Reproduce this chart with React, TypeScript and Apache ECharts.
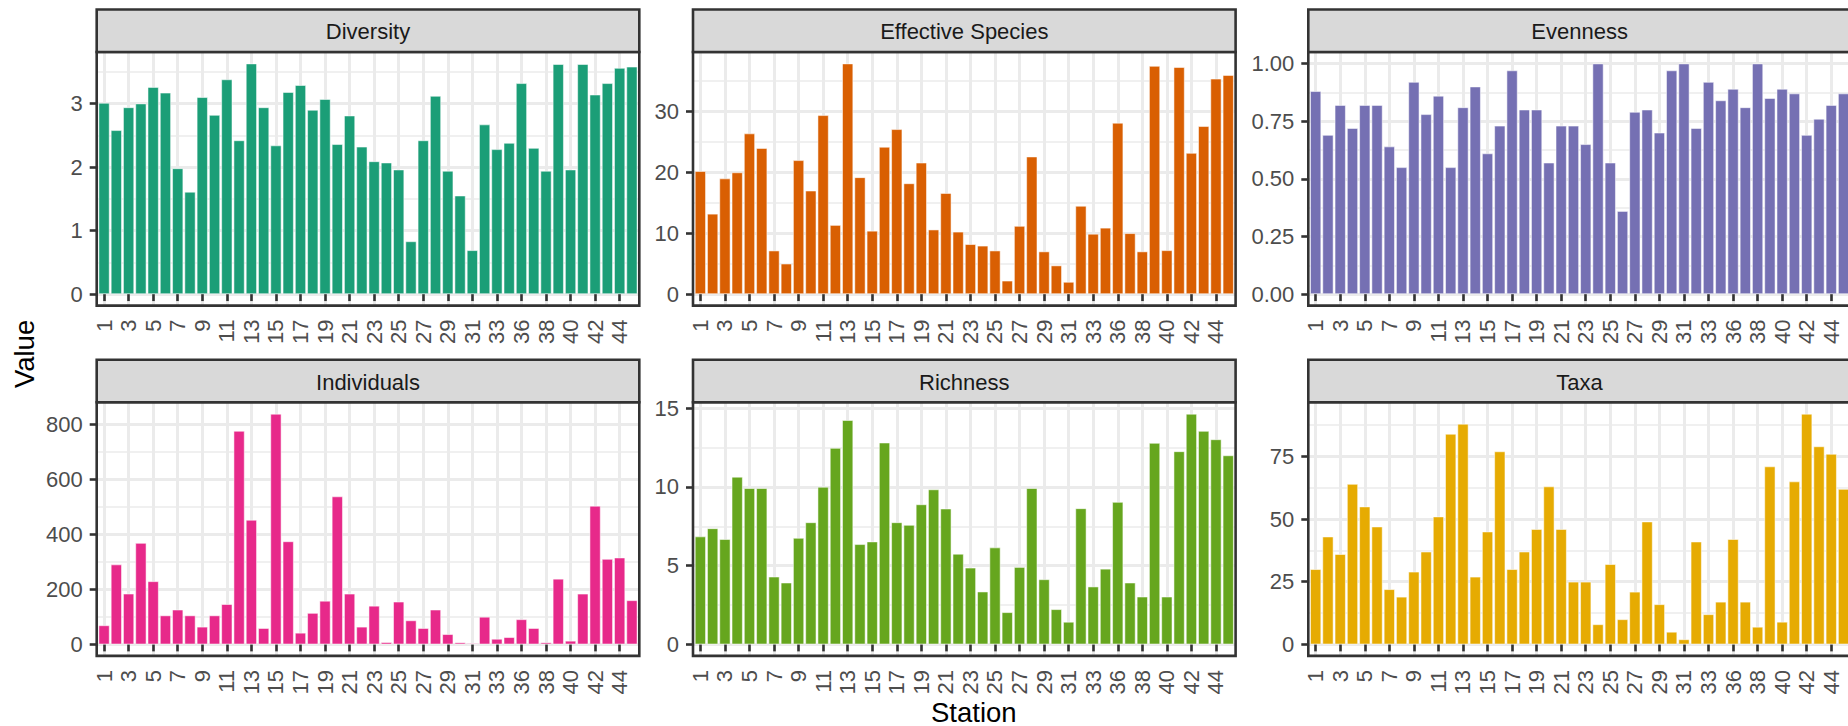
import React, { useEffect, useRef } from "react";
import * as echarts from "echarts";

// Stations along the transect (station 34 was not sampled)
const stations = [
  "1", "2", "3", "4", "5", "6", "7", "8", "9", "10", "11", "12", "13", "14", "15",
  "16", "17", "18", "19", "20", "21", "22", "23", "24", "25", "26", "27", "28", "29",
  "30", "31", "32", "33", "35", "36", "37", "38", "39", "40", "41", "42", "43", "44", "45",
];

const diversity = [
  3.01, 2.58, 2.94, 3.0, 3.26, 3.17, 1.98, 1.61, 3.1, 2.82, 3.38, 2.42, 3.63, 2.94, 2.34,
  3.18, 3.29, 2.9, 3.07, 2.36, 2.81, 2.32, 2.09, 2.07, 1.96, 0.83, 2.42, 3.12, 1.94, 1.55,
  0.69, 2.67, 2.28, 2.38, 3.32, 2.3, 1.94, 3.62, 1.96, 3.62, 3.14, 3.32, 3.56, 3.58,
];

const effectiveSpecies = [
  20.2, 13.2, 19.0, 20.0, 26.4, 24.0, 7.15, 5.0, 22.0, 17.0, 29.4, 11.35, 37.9, 19.2, 10.4,
  24.2, 27.1, 18.2, 21.6, 10.6, 16.6, 10.25, 8.2, 7.95, 7.15, 2.2, 11.2, 22.6, 7.0, 4.7,
  2.0, 14.5, 9.9, 10.9, 28.15, 10.0, 7.0, 37.5, 7.2, 37.3, 23.2, 27.6, 35.4, 36.0,
];

const evenness = [
  0.88, 0.69, 0.82, 0.72, 0.82, 0.82, 0.64, 0.55, 0.92, 0.78, 0.86, 0.55, 0.81, 0.9, 0.61,
  0.73, 0.97, 0.8, 0.8, 0.57, 0.73, 0.73, 0.65, 1.0, 0.57, 0.36, 0.79, 0.8, 0.7, 0.97,
  1.0, 0.72, 0.92, 0.84, 0.89, 0.81, 1.0, 0.85, 0.89, 0.87, 0.69, 0.76, 0.82, 0.87,
];

const individuals = [
  69, 290, 184, 368, 229, 105, 126, 105, 64, 105, 146, 775, 452, 59, 837,
  374, 42, 114, 158, 537, 184, 64, 140, 8, 155, 87, 59, 126, 37, 7,
  4, 100, 20, 26, 91, 59, 7, 238, 13, 184, 503, 310, 315, 160,
];

const richness = [
  6.85, 7.37, 6.68, 10.64, 9.92, 9.92, 4.3, 3.92, 6.76, 7.75, 10.0, 12.47, 14.24, 6.36, 6.53,
  12.81, 7.75, 7.58, 8.89, 9.84, 8.62, 5.75, 4.87, 3.35, 6.15, 2.04, 4.91, 9.92, 4.13, 2.23,
  1.43, 8.64, 3.67, 4.8, 9.04, 3.92, 3.03, 12.79, 3.03, 12.26, 14.64, 13.55, 13.02, 12.0,
];

const taxa = [
  30, 43, 36, 64, 55, 47, 22, 19, 29, 37, 51, 84, 88, 27, 45,
  77, 30, 37, 46, 63, 46, 25, 25, 8, 32, 10, 21, 49, 16, 5,
  2, 41, 12, 17, 42, 17, 7, 71, 9, 65, 92, 79, 76, 62,
];

// y-axis breaks of each facet
const diversityTicks = [0, 1, 2, 3];
const effectiveTicks = [0, 10, 20, 30];
const evennessTicks = [0, 0.25, 0.5, 0.75, 1];
const individualsTicks = [0, 200, 400, 600, 800];
const richnessTicks = [0, 5, 10, 15];
const taxaTicks = [0, 25, 50, 75];

const facetNames = ["Diversity", "Effective Species", "Evenness", "Individuals", "Richness", "Taxa"];
const facetValues = [diversity, effectiveSpecies, evenness, individuals, richness, taxa];
const facetTicks = [diversityTicks, effectiveTicks, evennessTicks, individualsTicks, richnessTicks, taxaTicks];
const facetDigits = [0, 0, 2, 0, 0, 0];
// Dark2 palette
const facetColors = ["#1B9E77", "#D95F02", "#7570B3", "#E7298A", "#66A61E", "#E6AB02"];

// Facet layout (pixels)
const COL_LEFT = [96.7, 693, 1308.3];
const PANEL_W = 542.6;
const STRIP_TOP = [9.5, 359.8];
const STRIP_H = 42.5;
const PANEL_TOP = [52, 402.3];
const PANEL_H = 253.6;

const FONT = "'Liberation Sans', Arial, Helvetica, sans-serif";
const GRID_COLOR = "#EBEBEB";
const DARK = "#333333";

function buildOption() {
  const band = PANEL_W / 44.2; // discrete scale expanded by 0.6 on each side
  const grid: any[] = [];
  const xAxis: any[] = [];
  const yAxis: any[] = [];
  const series: any[] = [];
  const graphic: any[] = [];

  facetNames.forEach((name, k) => {
    const row = Math.floor(k / 3);
    const col = k % 3;
    const left = COL_LEFT[col];
    const top = PANEL_TOP[row];
    const values = facetValues[k];
    const ticks = facetTicks[k];
    const step = ticks[1] - ticks[0];
    const vmax = Math.max(...values);
    const lo = -0.05 * vmax;
    const hi = 1.05 * vmax;
    const digits = facetDigits[k];

    // grid carrying the value axis and horizontal grid lines (zero line at its bottom)
    grid.push({ left, top, width: PANEL_W, height: (PANEL_H * 21) / 22 });
    xAxis.push({ type: "value", gridIndex: 2 * k, show: false, min: 0, max: 1 });
    yAxis.push({
      type: "value",
      gridIndex: 2 * k,
      min: 0,
      max: hi,
      interval: step,
      axisLine: { show: false },
      axisTick: {
        show: true,
        customValues: ticks,
        length: 7,
        lineStyle: { color: DARK, width: 2.6 },
      },
      axisLabel: {
        customValues: ticks,
        formatter: (v: number) => v.toFixed(digits),
        fontSize: 22,
        fontFamily: FONT,
        color: "#4D4D4D",
        margin: 14,
      },
      splitLine: { show: true, lineStyle: { color: GRID_COLOR, width: 3 } },
      minorTick: { show: false, splitNumber: 2 },
      minorSplitLine: { show: true, lineStyle: { color: GRID_COLOR, width: 1.6 } },
    });

    // grid carrying the station axis and the bars
    grid.push({ left: left + 0.6 * band, top, width: 43 * band, height: PANEL_H });
    xAxis.push({
      type: "category",
      gridIndex: 2 * k + 1,
      data: stations,
      boundaryGap: false,
      axisLine: { show: false },
      axisTick: { show: true, interval: 1, length: 7, lineStyle: { color: DARK, width: 2.6 } },
      axisLabel: {
        interval: 1,
        rotate: 90,
        fontSize: 22,
        fontFamily: FONT,
        color: "#4D4D4D",
        margin: 14,
      },
      splitLine: { show: true, interval: 1, lineStyle: { color: GRID_COLOR, width: 3 } },
    });
    yAxis.push({ type: "value", gridIndex: 2 * k + 1, show: false, min: lo, max: hi });

    series.push({
      type: "bar",
      name,
      xAxisIndex: 2 * k + 1,
      yAxisIndex: 2 * k + 1,
      data: values,
      barWidth: "90%",
      clip: false,
      silent: true,
      itemStyle: { color: facetColors[k], borderColor: "rgba(255,255,255,0.75)", borderWidth: 0.7 },
    });

    // panel border
    graphic.push({
      type: "rect",
      z: 100,
      silent: true,
      shape: { x: left, y: top, width: PANEL_W, height: PANEL_H },
      style: { fill: "none", stroke: DARK, lineWidth: 2.6 },
    });
    // facet strip
    graphic.push({
      type: "rect",
      z: 100,
      silent: true,
      shape: { x: left, y: STRIP_TOP[row], width: PANEL_W, height: STRIP_H },
      style: { fill: "#D9D9D9", stroke: DARK, lineWidth: 2.6 },
    });
    graphic.push({
      type: "text",
      z: 101,
      silent: true,
      x: left + PANEL_W / 2,
      y: STRIP_TOP[row] + STRIP_H / 2 + 1,
      style: {
        text: name,
        fill: "#1A1A1A",
        fontSize: 22,
        fontFamily: FONT,
        textAlign: "center",
        textVerticalAlign: "middle",
      },
    });
  });

  // axis titles
  graphic.push({
    type: "text",
    silent: true,
    x: 24,
    y: (PANEL_TOP[0] + PANEL_TOP[1] + PANEL_H) / 2,
    rotation: Math.PI / 2,
    style: {
      text: "Value",
      fill: "#000000",
      fontSize: 27.5,
      fontFamily: FONT,
      textAlign: "center",
      textVerticalAlign: "middle",
    },
  });
  graphic.push({
    type: "text",
    silent: true,
    x: (COL_LEFT[0] + COL_LEFT[2] + PANEL_W) / 2,
    y: 712,
    style: {
      text: "Station",
      fill: "#000000",
      fontSize: 27.5,
      fontFamily: FONT,
      textAlign: "center",
      textVerticalAlign: "middle",
    },
  });

  return {
    animation: false,
    backgroundColor: "#ffffff",
    textStyle: { fontFamily: FONT },
    grid,
    xAxis,
    yAxis,
    series,
    graphic,
  };
}

export default function App() {
  const ref = useRef<HTMLDivElement>(null);

  useEffect(() => {
    document.body.style.margin = "0";
    if (!ref.current) return;
    const chart = echarts.init(ref.current, undefined, { renderer: "svg" });
    chart.setOption(buildOption());
    return () => chart.dispose();
  }, []);

  return (
    <div
      ref={ref}
      style={{ position: "fixed", left: 0, top: 0, width: 1848, height: 726, overflow: "hidden" }}
    />
  );
}
